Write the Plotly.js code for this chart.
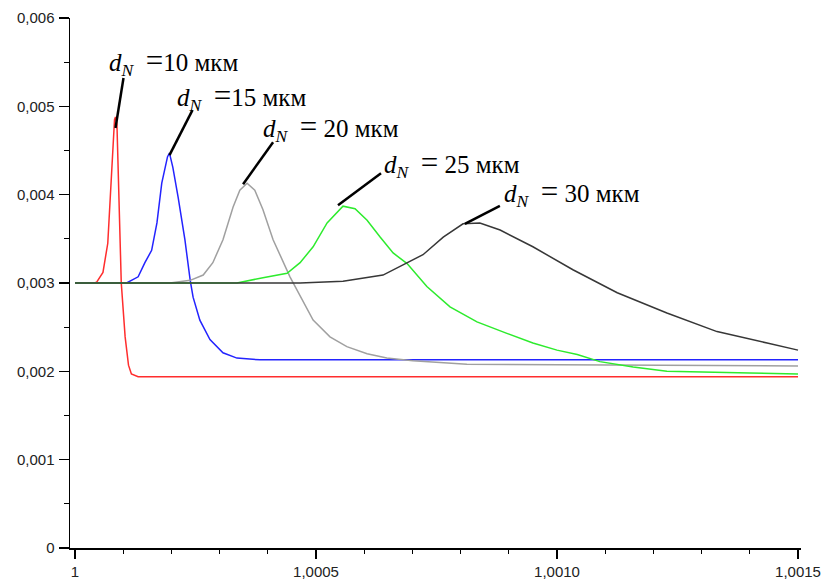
<!DOCTYPE html>
<html>
<head>
<meta charset="utf-8">
<script src="https://cdn.plot.ly/plotly-3.0.1.min.js"></script>
<style>html,body{margin:0;padding:0;background:#fff;}#chart{width:823px;height:580px;}</style>
</head>
<body>
<div id="chart"></div>
<script>
// ---- data ----
const sizes = [10, 15, 20, 25, 30]; // d_N, мкм

const x10 = [1.0, 1.000039, 1.000045, 1.000058, 1.000068, 1.000082, 1.000084, 1.000087, 1.000096, 1.000104, 1.000111, 1.000117, 1.000131, 1.0015];
const y10 = [0.00300, 0.00300, 0.00301, 0.00312, 0.00345, 0.00485, 0.00488, 0.00480, 0.00300, 0.00239, 0.00207, 0.00197, 0.00194, 0.00194];

const x15 = [1.0, 1.000107, 1.000131, 1.000145, 1.000159, 1.00017, 1.00018, 1.000192, 1.000196, 1.000203, 1.000214, 1.000228, 1.000239, 1.000245, 1.000259, 1.00028, 1.000307, 1.000336, 1.000384, 1.0015];
const y15 = [0.003, 0.003, 0.00307, 0.00323, 0.00337, 0.00368, 0.00413, 0.00443, 0.00447, 0.00431, 0.00397, 0.00349, 0.00303, 0.00284, 0.00258, 0.00236, 0.00221, 0.00215, 0.00213, 0.00213];

const x20 = [1.0, 1.000197, 1.000239, 1.000266, 1.000286, 1.000307, 1.000328, 1.000342, 1.000357, 1.000373, 1.00039, 1.000411, 1.000446, 1.000467, 1.000494, 1.000529, 1.000564, 1.000606, 1.000647, 1.000701, 1.000813, 1.0015];
const y20 = [0.003, 0.003, 0.00303, 0.00309, 0.00323, 0.00349, 0.00386, 0.00405, 0.00413, 0.00405, 0.00383, 0.00349, 0.00307, 0.00285, 0.00258, 0.00239, 0.00228, 0.00220, 0.00215, 0.00212, 0.00208, 0.00206];

const x25 = [1.0, 1.000336, 1.00039, 1.00044, 1.000467, 1.000494, 1.000523, 1.000544, 1.000556, 1.000581, 1.000606, 1.000633, 1.00066, 1.000689, 1.00073, 1.000778, 1.000834, 1.000896, 1.00095, 1.001, 1.001042, 1.001089, 1.001158, 1.001228, 1.001297, 1.0014, 1.0015];
const y25 = [0.003, 0.003, 0.00306, 0.00311, 0.00323, 0.00341, 0.00368, 0.00380, 0.00387, 0.00384, 0.00371, 0.00352, 0.00334, 0.00322, 0.00296, 0.00273, 0.00256, 0.00243, 0.00232, 0.00224, 0.00219, 0.00211, 0.00205, 0.00200, 0.00199, 0.00198, 0.00197];

const x30 = [1.0, 1.000467, 1.000556, 1.000639, 1.000722, 1.000764, 1.000805, 1.00084, 1.000882, 1.00095, 1.001033, 1.001125, 1.001228, 1.001332, 1.001436, 1.0015];
const y30 = [0.003, 0.003, 0.00302, 0.00309, 0.00332, 0.00352, 0.00367, 0.00368, 0.00360, 0.00341, 0.00315, 0.00289, 0.00266, 0.00245, 0.00232, 0.00224];

const xTickVals = [1, 1.0005, 1.0010, 1.0015];
const xTickText = ['1', '1,0005', '1,0010', '1,0015'];
const yTickVals = [0, 0.001, 0.002, 0.003, 0.004, 0.005, 0.006];
const yTickText = ['0', '0,001', '0,002', '0,003', '0,004', '0,005', '0,006'];

// ---- styling ----
const xs = [x10, x15, x20, x25, x30];
const ys = [y10, y15, y20, y25, y30];
const colors = ['rgb(255,45,45)', 'rgb(35,35,255)', 'rgb(160,160,160)', 'rgb(45,235,45)', 'rgb(55,55,55)'];
const NB = '\u00A0';
const EQ = '<span style="font-size:31px">=</span>';
const eqText = [' ' + NB + EQ, ' ' + NB + EQ, ' ' + NB + EQ + ' ', ' ' + NB + EQ + ' ', ' ' + NB + EQ + ' '];
// pointer line: head shift from peak (px, y up), tail offset from head (px, y down)
const headShift = [[0, -11], [0, -2], [-4, -1], [-5, 1], [-15, -1]];
const tail = [[8, -50], [23, -45], [30, -42], [43, -32], [35, -18]];
const textShift = [[-8.5, 55], [6, 57], [14, 56], [39, 43], [22, 30]];

const traces = sizes.map((s, i) => ({
  x: xs[i], y: ys[i], type: 'scatter', mode: 'lines',
  line: {color: colors[i], width: 1.5}, hoverinfo: 'skip'
}));

const annotations = [];
const shapes = [];
sizes.forEach((s, i) => {
  const yy = ys[i];
  let k = 0;
  for (let j = 1; j < yy.length; j++) if (yy[j] > yy[k]) k = j;
  const px = xs[i][k], py = yy[k];
  shapes.push({
    type: 'line', xref: 'x', yref: 'y',
    xsizemode: 'pixel', ysizemode: 'pixel', xanchor: px, yanchor: py,
    x0: headShift[i][0], y0: headShift[i][1],
    x1: headShift[i][0] + tail[i][0], y1: headShift[i][1] - tail[i][1],
    line: {color: '#000', width: 2.5}
  });
  annotations.push({
    x: px, y: py, xref: 'x', yref: 'y',
    text: '<i>d</i><sub><i>N</i></sub>' + eqText[i] + s + ' мкм',
    showarrow: false, xanchor: 'left', yanchor: 'middle',
    xshift: textShift[i][0], yshift: textShift[i][1],
    font: {family: 'Liberation Serif, Times New Roman, serif', size: 25, color: '#000'}
  });
});

const k = 0.0015 / 723;
const layout = {
  width: 823, height: 580,
  margin: {l: 70, r: 22, t: 18, b: 32},
  paper_bgcolor: '#fff', plot_bgcolor: '#fff',
  showlegend: false,
  font: {family: 'Liberation Sans, Arial, sans-serif', size: 15, color: '#222'},
  xaxis: {
    range: [1 - 5 * k, 1.0015 + 3 * k],
    tickmode: 'array', tickvals: xTickVals, ticktext: xTickText,
    showline: true, linecolor: '#000', linewidth: 1.5, mirror: false,
    ticks: 'outside', ticklen: 9, tickwidth: 1.3, tickcolor: '#000',
    minor: {tickmode: 'linear', tick0: 1, dtick: 0.0001, ticks: 'outside', ticklen: 4, tickwidth: 1.2, tickcolor: '#000', showgrid: false},
    showgrid: false, zeroline: false, fixedrange: true
  },
  yaxis: {
    range: [0, 0.006],
    tickmode: 'array', tickvals: yTickVals, ticktext: yTickText,
    showline: true, linecolor: '#000', linewidth: 1.5, mirror: false,
    ticks: 'outside', ticklen: 10, tickwidth: 1.3, tickcolor: '#000',
    ticklabelstandoff: 1,
    minor: {tickmode: 'linear', tick0: 0, dtick: 0.0005, ticks: 'outside', ticklen: 5, tickwidth: 1.2, tickcolor: '#000', showgrid: false},
    showgrid: false, zeroline: false, fixedrange: true
  },
  shapes: shapes,
  annotations: annotations
};

Plotly.newPlot('chart', traces, layout, {displayModeBar: false, staticPlot: true});
</script>
</body>
</html>
